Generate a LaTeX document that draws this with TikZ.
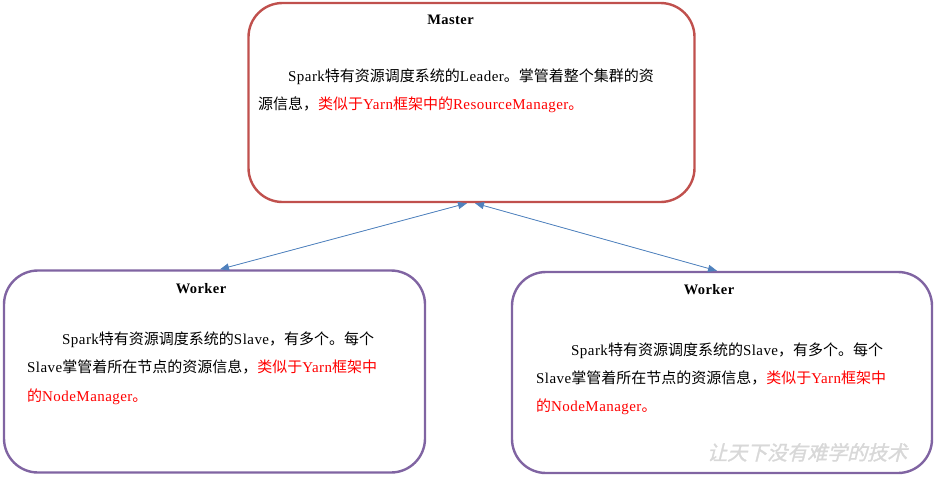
\documentclass[tikz,border=0pt]{standalone}
\usepackage{fontspec}
\setmainfont{Liberation Serif}[LetterSpace=3]
\newfontfamily\cjk{Noto Sans CJK SC}
\newfontfamily\wmfont[FakeSlant=0.25,FakeBold=1.5]{Noto Sans CJK SC}
\usetikzlibrary{arrows.meta}
\definecolor{masterred}{HTML}{C0504D}
\definecolor{workerpurple}{HTML}{8064A2}
\definecolor{arrowblue}{HTML}{4F81BD}
\definecolor{wmgray}{HTML}{D8D8D8}
\newcommand{\zh}[1]{{\cjk #1}}
\tikzset{
  masterbox/.style={draw=masterred, line width=2.4pt, rounded corners=34pt, inner sep=0pt},
  workerbox/.style={draw=workerpurple, line width=2.4pt, rounded corners=34pt, inner sep=0pt},
  titletext/.style={anchor=base, inner sep=0pt, font=\fontsize{14.5}{16}\selectfont\bfseries},
  bodytext/.style={anchor=base west, inner sep=0pt, font=\fontsize{15}{17}\selectfont},
  link/.style={draw=arrowblue, line width=0.8pt, {Triangle[length=9pt,width=7pt]}-{Triangle[length=9pt,width=7pt]}, fill=arrowblue},
}
\begin{document}
\begin{tikzpicture}[x=1pt,y=-1pt]
\useasboundingbox (0,0) rectangle (942,480);
% boxes
\node[masterbox, minimum width=446pt, minimum height=199pt] (master) at (471.5,102.5) {};
\node[workerbox, minimum width=421pt, minimum height=202pt] (w1) at (214.5,371.5) {};
\node[workerbox, minimum width=420pt, minimum height=201pt] (w2) at (722,372.5) {};
% titles
\node[titletext] (mt) at (450.5,24) {Master};
\node[titletext] (w1t) at (201,293) {Worker};
\node[titletext] (w2t) at (709,294) {Worker};
% master text
\node[bodytext] (m1) at (288,81) {Spark\zh{特有资源调度系统的}Leader\zh{。掌管着整个集群的资}};
\node[bodytext] (m2) at (258,109) {\zh{源信息，}\color{red}\zh{类似于}Yarn\zh{框架中的}ResourceManager\zh{。}};
% worker 1 text
\node[bodytext] (a1) at (62,344) {Spark\zh{特有资源调度系统的}Slave\zh{，有多个。每个}};
\node[bodytext] (a2) at (27,372) {Slave\zh{掌管着所在节点的资源信息，}\color{red}\zh{类似于}Yarn\zh{框架中}};
\node[bodytext, text=red] (a3) at (27,401) {\zh{的}NodeManager\zh{。}};
% worker 2 text
\node[bodytext] (b1) at (571,355) {Spark\zh{特有资源调度系统的}Slave\zh{，有多个。每个}};
\node[bodytext] (b2) at (536,383) {Slave\zh{掌管着所在节点的资源信息，}\color{red}\zh{类似于}Yarn\zh{框架中}};
\node[bodytext, text=red] (b3) at (536,411) {\zh{的}NodeManager\zh{。}};
% watermark
\node[anchor=base west, inner sep=0pt, text=wmgray, font=\wmfont\fontsize{20}{21}\selectfont] (wm) at (707,460) {让天下没有难学的技术};
% connectors
\draw[link] ([xshift=-4.5pt]master.south) -- ([xshift=5.5pt]w1.north);
\draw[link] ([xshift=3.5pt]master.south) -- ([xshift=-5pt]w2.north);
\end{tikzpicture}
\end{document}
